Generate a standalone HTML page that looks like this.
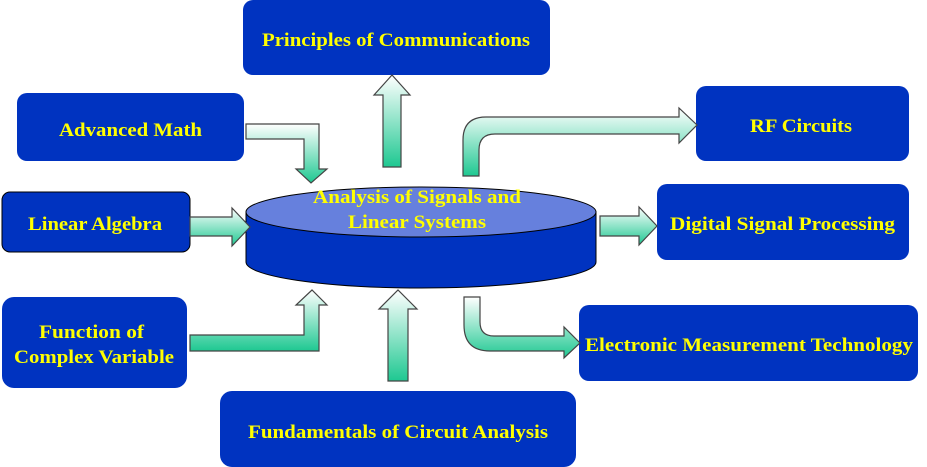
<!DOCTYPE html>
<html><head><style>
html,body{margin:0;padding:0;background:#fff;}
svg{display:block;}
text{font-family:"Liberation Serif",serif;font-weight:bold;fill:#ffff00;font-size:19px;}
</style></head><body>
<svg width="927" height="467" viewBox="0 0 927 467" xmlns="http://www.w3.org/2000/svg">
<defs>
<linearGradient id="g" x1="0" y1="0" x2="0" y2="1">
<stop offset="0" stop-color="#ffffff"/><stop offset="1" stop-color="#1ec891"/>
</linearGradient>
</defs>
<g fill="#0033c0">
<rect x="243" y="0" width="307" height="75" rx="10"/>
<rect x="17" y="93" width="227" height="68" rx="10"/>
<rect x="2" y="192" width="188" height="60" rx="8" stroke="#000" stroke-width="1"/>
<rect x="2" y="297" width="185" height="91" rx="12"/>
<rect x="220" y="391" width="356" height="76" rx="12"/>
<rect x="696" y="86" width="213" height="75" rx="10"/>
<rect x="657" y="184" width="252" height="76" rx="10"/>
<rect x="579" y="305" width="339" height="76" rx="10"/>
</g>
<g>
<text x="262" y="46" textLength="268" lengthAdjust="spacingAndGlyphs">Principles  of Communications</text>
<text x="59" y="136" textLength="143" lengthAdjust="spacingAndGlyphs">Advanced Math</text>
<text x="28" y="230" textLength="134" lengthAdjust="spacingAndGlyphs">Linear Algebra</text>
<text x="39" y="338" textLength="105" lengthAdjust="spacingAndGlyphs">Function of</text>
<text x="14" y="363" textLength="160" lengthAdjust="spacingAndGlyphs">Complex Variable</text>
<text x="248" y="438" textLength="300" lengthAdjust="spacingAndGlyphs">Fundamentals  of Circuit Analysis</text>
<text x="750" y="132" textLength="102" lengthAdjust="spacingAndGlyphs">RF Circuits</text>
<text x="670" y="230" textLength="225" lengthAdjust="spacingAndGlyphs">Digital Signal Processing</text>
<text x="585" y="351" textLength="328" lengthAdjust="spacingAndGlyphs">Electronic  Measurement  Technology</text>
</g>
<path d="M246 212 L246 262 A175 26 0 0 0 596 262 L596 212 Z" fill="#0033c0" stroke="#000" stroke-width="1"/>
<ellipse cx="421" cy="212" rx="175" ry="25" fill="#6680dd" stroke="#000" stroke-width="1"/>
<text x="313" y="203" textLength="208" lengthAdjust="spacingAndGlyphs">Analysis  of Signals and</text>
<text x="348" y="228" textLength="138" lengthAdjust="spacingAndGlyphs">Linear  Systems</text>
<g fill="url(#g)" stroke="#444" stroke-width="1.2">
<path d="M246 124 L319 124 L319 169 L327 169 L311 183 L296 169 L304 169 L304 139 L246 139 Z"/>
<path d="M383 167 L383 95 L374 95 L392 75 L410 95 L401 95 L401 167 Z"/>
<path d="M190 217 L232 217 L232 208 L250 227 L232 246 L232 236 L190 236 Z"/>
<path d="M463 176 L463 140 Q463 117 486 117 L679 117 L679 108 L697 125 L679 143 L679 134 L495 134 Q479 134 479 150 L479 176 Z"/>
<path d="M600 216 L639 216 L639 207 L657 226 L639 245 L639 236 L600 236 Z"/>
<path d="M464 297 L480 297 L480 322 Q480 336 494 336 L564 336 L564 327 L580 343 L564 358 L564 351 L490 351 Q464 351 464 325 Z"/>
<path d="M190 335 L304 335 L304 305 L296 305 L312 290 L327 305 L319 305 L319 351 L190 351 Z"/>
<path d="M388 381 L388 309 L379 309 L398 290 L417 309 L408 309 L408 381 Z"/>
</g>
</svg>
</body></html>
